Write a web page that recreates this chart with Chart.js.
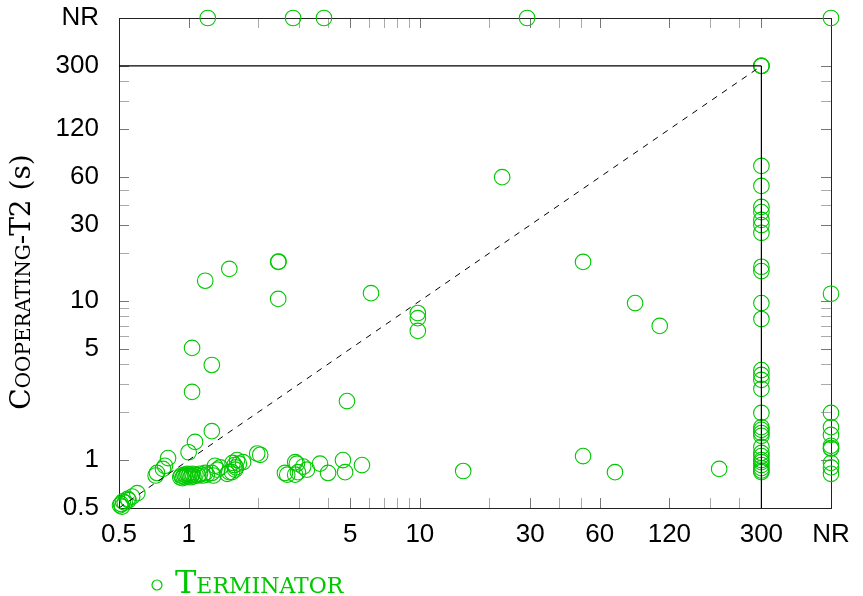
<!DOCTYPE html>
<html>
<head>
<meta charset="utf-8">
<script src="https://cdn.jsdelivr.net/npm/chart.js@4/dist/chart.umd.min.js"></script>
<style>
  html, body { margin: 0; padding: 0; background: #fff; }
  #wrap { width: 863px; height: 596px; }
</style>
</head>
<body>
<div id="wrap"><canvas id="scatter" width="863" height="596"></canvas></div>
<script>
// "NR" (no result) is plotted just past the 300 s timeout
const NR = 600

const tickValues = [0.5, 1, 5, 10, 30, 60, 120, 300, NR]
const tickLabels = ['0.5', '1', '5', '10', '30', '60', '120', '300', 'NR']
const minorTicks = [2, 3, 4, 6, 7, 8, 9, 20, 40, 50, 180, 240]

// Terminator (x) vs Cooperating-T2 (y), seconds
const termX = [
  1.21, 2.83, 3.85, 29.1, NR,
  300, 300, 300,
  300, 300, 300, 300, 300, 300, 300, 300, 300, 300, 300,
  300, 300, 300, 300, 300, 300, 300, 300, 300, 300, 300, 300, 300, 300, 300, 300, 300, 300,
  NR, NR, NR, NR, NR, NR, NR, NR, NR, NR,
  22.7, 50.8, 85.3, 109, 50.8, 69.8, 197, 15.4,
  9.8, 9.8, 9.8, 6.15, 4.84, 2.44, 2.45, 2.44, 1.5, 1.18, 1.035, 1.26, 1.035, 1.26, 1.066, 1.0, 0.815,
  0.505, 0.51, 0.52, 0.53, 0.545, 0.55, 0.57, 0.6, 0.515,
  0.72, 0.73, 0.775, 0.79,
  0.92, 0.93, 0.94, 0.95, 0.96, 0.97, 0.98, 0.99, 1.0, 1.01, 1.02, 1.03, 1.04, 1.05, 1.07, 1.1, 1.12, 1.15, 1.18, 1.2,
  1.26, 1.28, 1.33, 1.37, 1.3, 1.47, 1.5, 1.54, 1.55, 1.58, 1.59, 1.62, 1.6, 1.65, 1.72, 1.98, 2.04,
  2.61, 2.67, 2.89, 2.89, 2.94, 2.97, 3.13, 3.25, 3.7, 4.01, 4.65, 4.75, 5.62
]
const termY = [
  NR, NR, NR, NR, NR,
  300, 300, 300,
  70.6, 52.8, 39, 36.2, 32.3, 30, 26.8, 16.4, 15.4, 9.7, 7.7,
  3.68, 3.43, 3.19, 2.8, 1.98, 1.61, 1.55, 1.48, 1.42, 1.21, 1.11, 1.06, 1.0, 0.97, 0.93, 0.89, 0.86, 0.84,
  11.1, 1.98, 1.61, 1.44, 1.23, 1.19, 1.18, 0.96, 0.9, 0.82,
  60, 17.6, 9.7, 6.97, 1.06, 0.84, 0.88, 0.854,
  8.4, 7.8, 6.48, 11.2, 2.35, 17.6, 17.7, 10.3, 15.9, 13.4, 5.07, 3.96, 2.68, 1.52, 1.3, 1.12, 1.03,
  0.52, 0.53, 0.55, 0.54, 0.57, 0.56, 0.59, 0.62, 0.51,
  0.8, 0.83, 0.88, 0.92,
  0.78, 0.8, 0.77, 0.79, 0.81, 0.78, 0.8, 0.82, 0.79, 0.81, 0.78, 0.8, 0.82, 0.79, 0.81, 0.8, 0.82, 0.8, 0.83, 0.81,
  0.83, 0.8, 0.87, 0.9, 0.92, 0.82, 0.84, 0.84, 0.96, 0.93, 0.87, 1.0, 0.9, 0.95, 0.97, 1.1, 1.08,
  0.83, 0.81, 0.81, 0.97, 0.95, 0.84, 0.91, 0.87, 0.95, 0.83, 1.0, 0.84, 0.93
]

const timeout = 300
const green = '#00c800'

const points = termX.map((x, i) => ({ x: x, y: termY[i] }))

// frame, inward ticks on all four sides, y title and legend
const decor = {
  id: 'decor',
  beforeDatasetsDraw(chart) {
    const ctx = chart.ctx
    const a = chart.chartArea
    const xs = chart.scales.x, ys = chart.scales.y
    ctx.save()
    ctx.lineWidth = 1
    const all = tickValues.map(v => [v, true]).concat(minorTicks.map(v => [v, false]))
    all.forEach(([v, major]) => {
      ctx.strokeStyle = major ? '#777' : '#aaa'
      const px = Math.round(xs.getPixelForValue(v)) + 0.5
      const py = Math.round(ys.getPixelForValue(v)) + 0.5
      ctx.beginPath()
      ctx.moveTo(px, a.bottom); ctx.lineTo(px, a.bottom - 10)
      ctx.moveTo(px, a.top); ctx.lineTo(px, a.top + 10)
      ctx.moveTo(a.left, py); ctx.lineTo(a.left + 10, py)
      ctx.moveTo(a.right, py); ctx.lineTo(a.right - 10, py)
      ctx.stroke()
    })
    ctx.strokeStyle = '#222'
    ctx.strokeRect(Math.round(a.left) + 0.5, Math.round(a.top) + 0.5,
      Math.round(a.right - a.left), Math.round(a.bottom - a.top))
    ctx.restore()
  },
  afterDraw(chart) {
    const ctx = chart.ctx
    ctx.save()
    // y title
    ctx.translate(23, 282)
    ctx.rotate(-Math.PI / 2)
    ctx.fillStyle = '#000'
    ctx.textBaseline = 'middle'
    const sc = "small-caps 28px 'DejaVu Serif'"
    const rm = "28px 'DejaVu Serif'"
    ctx.font = sc
    const w1 = ctx.measureText('Cooperating-T2').width
    ctx.font = rm
    const w2 = ctx.measureText(' (s)').width
    let x0 = -(w1 + w2) / 2
    ctx.font = sc
    ctx.textAlign = 'left'
    ctx.fillText('Cooperating-T2', x0, 0)
    ctx.font = rm
    ctx.fillText(' (s)', x0 + w1, 0)
    ctx.restore()

    // legend
    ctx.save()
    ctx.strokeStyle = green
    ctx.lineWidth = 1.2
    ctx.beginPath()
    ctx.arc(157, 585, 5, 0, Math.PI * 2)
    ctx.stroke()
    ctx.fillStyle = green
    ctx.font = "small-caps 32px 'DejaVu Serif'"
    ctx.textBaseline = 'alphabetic'
    ctx.fillText('Terminator', 175, 593)
    ctx.restore()
  }
}

const tickFont = { family: "'Liberation Sans'", size: 26 }

const cfg = {
  type: 'scatter',
  data: {
    datasets: [
      {
        label: 'diag',
        data: [{ x: 0.5, y: 0.5 }, { x: timeout, y: timeout }],
        showLine: true,
        borderColor: '#000',
        borderWidth: 1,
        borderDash: [6, 6],
        pointRadius: 0,
      },
      {
        label: 'timeoutH',
        data: [{ x: 0.5, y: timeout }, { x: timeout, y: timeout }],
        showLine: true,
        borderColor: '#000',
        borderWidth: 1.2,
        pointRadius: 0,
      },
      {
        label: 'timeoutV',
        data: [{ x: timeout, y: 0.5 }, { x: timeout, y: timeout }],
        showLine: true,
        borderColor: '#000',
        borderWidth: 1.2,
        pointRadius: 0,
      },
      {
        label: 'Terminator',
        data: points,
        pointStyle: 'circle',
        pointRadius: 7.8,
        pointHoverRadius: 7.8,
        borderWidth: 1.1,
        borderColor: green,
        backgroundColor: 'rgba(0,0,0,0)',
      },
    ],
  },
  options: {
    responsive: false,
    animation: false,
    events: [],
    clip: false,
    layout: { padding: { left: 0, right: 32, top: 18, bottom: 40 } },
    plugins: { legend: { display: false }, tooltip: { enabled: false } },
    scales: {
      x: {
        type: 'logarithmic',
        min: 0.5,
        max: NR,
        afterBuildTicks: s => { s.ticks = tickValues.map(v => ({ value: v })) },
        afterFit: s => { s.height = 48; s.paddingLeft = 0; s.paddingRight = 0 },
        grid: { display: false },
        border: { display: false },
        ticks: {
          autoSkip: false,
          maxRotation: 0,
          padding: 3,
          color: '#000',
          font: tickFont,
          callback: (v) => tickLabels[tickValues.indexOf(v)] ?? '',
        },
      },
      y: {
        type: 'logarithmic',
        min: 0.5,
        max: NR,
        afterBuildTicks: s => { s.ticks = tickValues.map(v => ({ value: v })) },
        afterFit: s => { s.width = 119; s.paddingTop = 0; s.paddingBottom = 0 },
        grid: { display: false },
        border: { display: false },
        ticks: {
          autoSkip: false,
          padding: 12,
          color: '#000',
          font: tickFont,
          callback: (v) => tickLabels[tickValues.indexOf(v)] ?? '',
        },
      },
    },
  },
  plugins: [decor],
}

const scatterCtx = document.getElementById('scatter')
window.myScatter = new Chart(scatterCtx, cfg)
</script>
</body>
</html>
